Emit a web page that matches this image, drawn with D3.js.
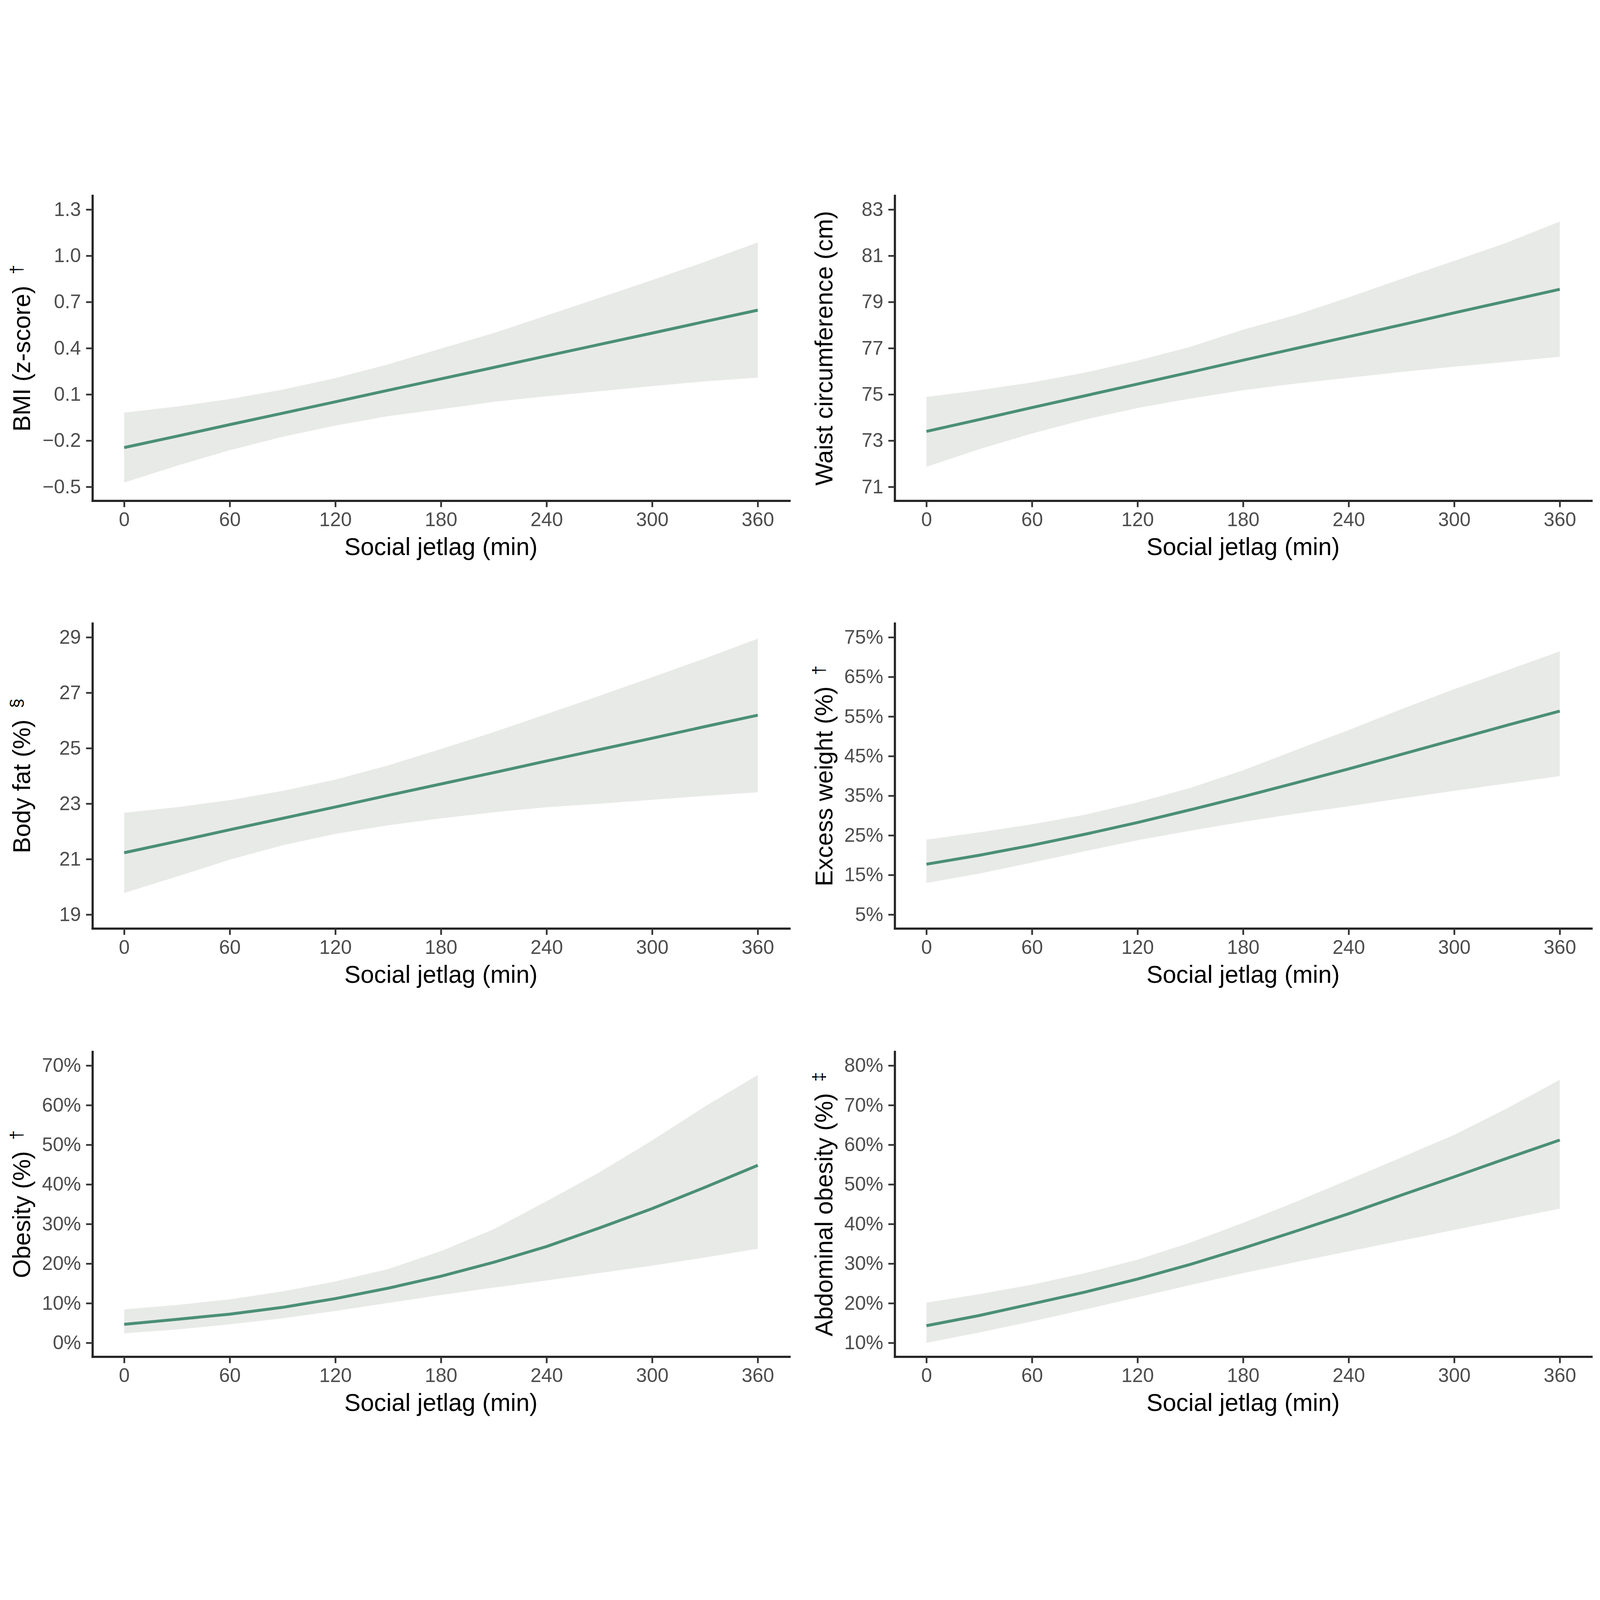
<!DOCTYPE html>
<html>
<head>
<meta charset="utf-8">
<script src="https://cdn.jsdelivr.net/npm/d3@7"></script>
<style>
  html, body { margin: 0; padding: 0; background: #ffffff; width: 100%; height: 100%; overflow: hidden; }
  svg { display: block; width: 100vw; height: 100vh; }
</style>
</head>
<body>
<script>
// ---------------- DATA ----------------
const minutes = [0, 30, 60, 90, 120, 150, 180, 210, 240, 270, 300, 330, 360];
const xTicks = [0, 60, 120, 180, 240, 300, 360];
const xTitle = "Social jetlag (min)";

// BMI (z-score)
const bmiFit   = [-0.245, -0.171, -0.096, -0.022, 0.052, 0.127, 0.201, 0.275, 0.350, 0.424, 0.498, 0.573, 0.647];
const bmiLower = [-0.472, -0.363, -0.262, -0.175, -0.102, -0.041, 0.004, 0.052, 0.088, 0.121, 0.154, 0.185, 0.209];
const bmiUpper = [-0.018, 0.021, 0.070, 0.131, 0.206, 0.295, 0.398, 0.498, 0.612, 0.727, 0.842, 0.961, 1.087];
const bmiTicks = [-0.5, -0.2, 0.1, 0.4, 0.7, 1.0, 1.3];

// Waist circumference (cm)
const waistFit   = [73.40, 73.91, 74.43, 74.94, 75.45, 75.96, 76.48, 76.99, 77.50, 78.01, 78.53, 79.04, 79.55];
const waistLower = [71.87, 72.63, 73.31, 73.91, 74.41, 74.82, 75.18, 75.47, 75.72, 75.97, 76.20, 76.41, 76.63];
const waistUpper = [74.89, 75.18, 75.52, 75.94, 76.46, 77.06, 77.80, 78.44, 79.20, 80.00, 80.78, 81.57, 82.48];
const waistTicks = [71, 73, 75, 77, 79, 81, 83];

// Body fat (%)
const fatFit   = [21.23, 21.64, 22.06, 22.47, 22.88, 23.30, 23.71, 24.12, 24.54, 24.95, 25.36, 25.78, 26.19];
const fatLower = [19.78, 20.37, 20.98, 21.50, 21.91, 22.22, 22.47, 22.69, 22.87, 23.00, 23.14, 23.28, 23.41];
const fatUpper = [22.67, 22.87, 23.13, 23.46, 23.87, 24.38, 24.97, 25.58, 26.23, 26.89, 27.56, 28.24, 28.95];
const fatTicks = [19, 21, 23, 25, 27, 29];

// Excess weight (%)
const excessFit   = [17.72, 19.98, 22.50, 25.27, 28.24, 31.46, 34.78, 38.25, 41.77, 45.45, 49.12, 52.80, 56.37];
const excessLower = [12.99, 15.35, 18.12, 20.99, 23.76, 26.17, 28.44, 30.45, 32.36, 34.33, 36.24, 38.10, 39.96];
const excessUpper = [23.91, 25.77, 27.78, 30.20, 33.32, 36.99, 41.42, 46.55, 51.58, 56.86, 61.90, 66.67, 71.45];
const excessTicks = [5, 15, 25, 35, 45, 55, 65, 75];

// Obesity (%)
const obesityFit   = [4.68, 5.94, 7.25, 8.96, 11.18, 13.80, 16.82, 20.34, 24.32, 29.00, 33.89, 39.27, 44.81];
const obesityLower = [2.42, 3.37, 4.68, 6.19, 8.06, 10.07, 12.08, 13.95, 15.76, 17.62, 19.49, 21.55, 23.77];
const obesityUpper = [8.46, 9.57, 10.98, 12.99, 15.51, 18.63, 23.16, 28.70, 35.75, 43.05, 51.11, 59.67, 67.62];
const obesityTicks = [0, 10, 20, 30, 40, 50, 60, 70];

// Abdominal obesity (%)
const abdoFit   = [14.33, 16.90, 19.84, 22.80, 26.10, 29.80, 33.90, 38.20, 42.60, 47.30, 51.90, 56.60, 61.20];
const abdoLower = [10.00, 12.60, 15.41, 18.40, 21.50, 24.60, 27.60, 30.40, 33.10, 35.80, 38.50, 41.20, 43.90];
const abdoUpper = [20.15, 22.30, 24.68, 27.60, 31.00, 35.30, 40.30, 45.60, 51.20, 56.80, 62.50, 69.20, 76.40];
const abdoTicks = [10, 20, 30, 40, 50, 60, 70, 80];

// ---------------- PANELS (built from the arrays) ----------------
const minus = "\u2212";
const fmtDec = d => (d < 0 ? minus + Math.abs(d).toFixed(1) : d.toFixed(1));
const fmtInt = d => String(d);
const fmtPct = d => d + "%";

const panels = [
  { row: 0, col: 0, title: "BMI (z-score)", sup: "\u2020", fit: bmiFit, lower: bmiLower, upper: bmiUpper, ticks: bmiTicks, fmt: fmtDec },
  { row: 0, col: 1, title: "Waist circumference (cm)", sup: null, fit: waistFit, lower: waistLower, upper: waistUpper, ticks: waistTicks, fmt: fmtInt },
  { row: 1, col: 0, title: "Body fat (%)", sup: "\u00A7", fit: fatFit, lower: fatLower, upper: fatUpper, ticks: fatTicks, fmt: fmtInt },
  { row: 1, col: 1, title: "Excess weight (%)", sup: "\u2020", fit: excessFit, lower: excessLower, upper: excessUpper, ticks: excessTicks, fmt: fmtPct },
  { row: 2, col: 0, title: "Obesity (%)", sup: "\u2020", fit: obesityFit, lower: obesityLower, upper: obesityUpper, ticks: obesityTicks, fmt: fmtPct },
  { row: 2, col: 1, title: "Abdominal obesity (%)", sup: "\u2021", fit: abdoFit, lower: abdoLower, upper: abdoUpper, ticks: abdoTicks, fmt: fmtPct }
];

// ---------------- LAYOUT ----------------
const W = 5985, H = 4671;
const cols = [{ left: 346, right: 2953 }, { left: 3347, right: 5953 }];
const rows = [{ top: 75, bottom: 1216 }, { top: 1675, bottom: 2816 }, { top: 3277, bottom: 4418 }];
const FONT = "'Liberation Sans', Arial, Helvetica, sans-serif";
const tickFont = 73, titleFont = 91, supFont = 64;
const lineColor = "#4B8F78", bandColor = "#E8EAE7";
const axisColor = "#222222", tickColor = "#333333", tickTextColor = "#4D4D4D";

const svg = d3.select("body").append("svg")
  .attr("viewBox", `0 0 ${W} ${H}`)
  .attr("preserveAspectRatio", "xMidYMid meet")
  .style("font-family", FONT);

svg.append("rect").attr("width", W).attr("height", H).attr("fill", "#ffffff");

panels.forEach(p => {
  const c = cols[p.col], r = rows[p.row];
  const x = d3.scaleLinear().domain([-18, 378]).range([c.left, c.right]);
  const tmin = d3.min(p.ticks), tmax = d3.max(p.ticks), pad = (tmax - tmin) * 0.05;
  const y = d3.scaleLinear().domain([tmin - pad, tmax + pad]).range([r.bottom, r.top]);

  const g = svg.append("g");

  const pts = minutes.map((m, i) => ({ m, fit: p.fit[i], lo: p.lower[i], hi: p.upper[i] }));

  g.append("path")
    .datum(pts)
    .attr("fill", bandColor)
    .attr("stroke", "none")
    .attr("d", d3.area().x(d => x(d.m)).y0(d => y(d.lo)).y1(d => y(d.hi)));

  g.append("path")
    .datum(pts)
    .attr("fill", "none")
    .attr("stroke", lineColor)
    .attr("stroke-width", 11)
    .attr("stroke-linejoin", "round")
    .attr("d", d3.line().x(d => x(d.m)).y(d => y(d.fit)));

  const gx = g.append("g")
    .attr("transform", `translate(0,${r.bottom})`)
    .call(d3.axisBottom(x).tickValues(xTicks).tickSize(24).tickSizeOuter(0).tickPadding(19).tickFormat(fmtInt));
  const gy = g.append("g")
    .attr("transform", `translate(${c.left},0)`)
    .call(d3.axisLeft(y).tickValues(p.ticks).tickSize(24).tickSizeOuter(0).tickPadding(19).tickFormat(p.fmt));

  [gx, gy].forEach(ax => {
    ax.select(".domain").attr("stroke", axisColor).attr("stroke-width", 8).attr("stroke-linecap", "square");
    ax.selectAll(".tick line").attr("stroke", tickColor).attr("stroke-width", 6.5);
    ax.selectAll(".tick text").attr("fill", tickTextColor).style("font-size", tickFont + "px").style("font-family", FONT);
  });

  g.append("text")
    .attr("x", (c.left + c.right) / 2)
    .attr("y", r.bottom + 203)
    .attr("text-anchor", "middle")
    .attr("fill", "#000000")
    .style("font-size", titleFont + "px")
    .text(xTitle);

  const yt = g.append("text")
    .attr("transform", `translate(${c.left - 233},${(r.top + r.bottom) / 2}) rotate(-90)`)
    .attr("text-anchor", "middle")
    .attr("fill", "#000000")
    .style("font-size", titleFont + "px");
  yt.append("tspan").text(p.title + (p.sup ? " " : ""));
  if (p.sup) {
    yt.append("tspan")
      .attr("dx", 17)
      .attr("dy", -30)
      .style("font-size", supFont + "px")
      .text(p.sup);
  }
});
</script>
</body>
</html>
